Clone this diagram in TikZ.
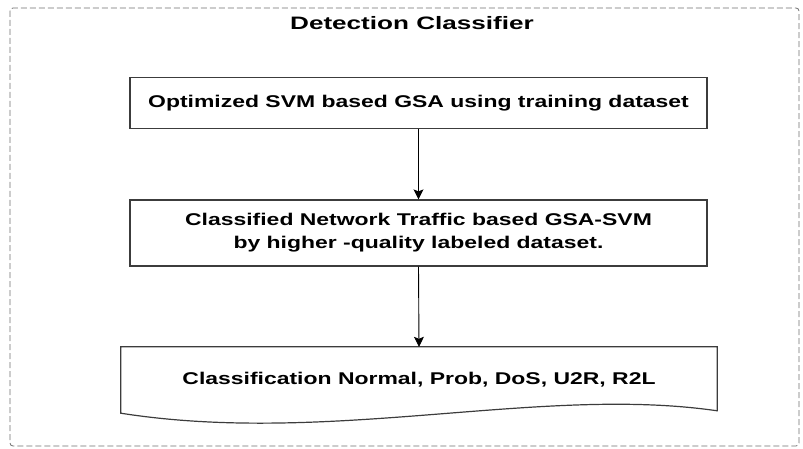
\documentclass[tikz,border=0pt]{standalone}
\usepackage{fontspec}
\setmainfont{Liberation Sans}
\usepackage{graphicx}
\usetikzlibrary{arrows.meta}
\newcommand{\wide}[1]{\scalebox{1.35}[1]{#1}}

\begin{document}
\begin{tikzpicture}[x=1pt, y=-1pt,
    stagebox/.style={draw=boxcolor, line width=1.2pt, fill=white, inner sep=0pt},
    flow/.style={draw=black, line width=0.9pt, -{Stealth[length=10pt, width=10pt, inset=2pt]}},
    bodytext/.style={font=\bfseries\fontsize{17}{23}\selectfont, align=center}]
    \definecolor{boxcolor}{RGB}{60,60,60}
    \definecolor{framecolor}{RGB}{110,110,110}
    \useasboundingbox (0,0) rectangle (803,449);

    % outer dashed frame with its title
    \draw[framecolor, line width=0.8pt, dash pattern=on 6pt off 3pt, rounded corners=3pt] (10,8) rectangle (799,446);
    \node[font=\bfseries\fontsize{18}{22}\selectfont] (title) at (412,23) {\scalebox{1.45}[1]{Detection Classifier}};

    % the two processing steps
    \node[stagebox, bodytext, minimum width=577pt, minimum height=51pt] (train) at (418.5,103)
        {\wide{Optimized SVM based GSA using training dataset}};
    \node[stagebox, bodytext, minimum width=577pt, minimum height=66pt] (classify) at (418.5,233)
        {\wide{Classified Network Traffic based GSA-SVM}\\ \wide{by higher -quality labeled dataset.}};

    % output as a document shape: wavy lower edge
    \node[bodytext, minimum width=596pt, minimum height=66pt, inner sep=0pt] (result) at (419,380)
        {\wide{Classification Normal, Prob, DoS, U2R, R2L}};
    \draw[boxcolor, line width=1.2pt] (result.south west) -- (result.north west) -- (result.north east)
        -- ++(0,64) .. controls (540,385) and (330,446) .. (result.south west) -- cycle;

    \draw[flow] (train.south) -- (classify.north);
    \draw[flow] (classify.south) -- (result.north);
  \end{tikzpicture}
\end{document}
